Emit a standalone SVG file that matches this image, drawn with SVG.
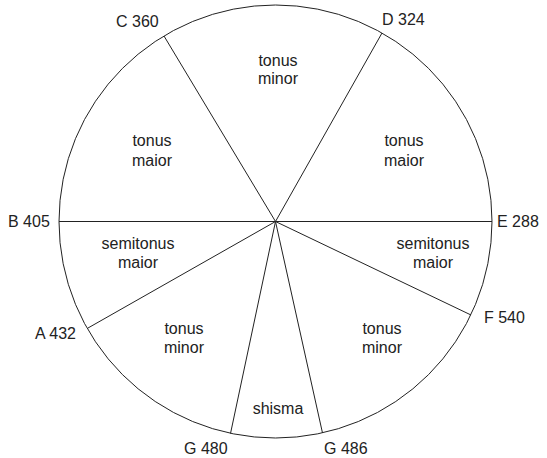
<svg xmlns="http://www.w3.org/2000/svg" width="547" height="458" viewBox="0 0 547 458">
<style>
text{font-family:"Liberation Sans",Arial,sans-serif;font-size:16px;fill:#222}
.c{text-anchor:middle}
.ln{stroke:#222;stroke-width:1;fill:none}
</style>
<rect width="547" height="458" fill="#fff"/>
<g id="circle"><circle class="ln" cx="275.5" cy="221.5" r="216.5"/></g>
<g id="connectors">
<line class="ln" x1="59" y1="221.5" x2="492" y2="221.5"/>
<line class="ln" x1="275.5" y1="221.5" x2="164" y2="36"/>
<line class="ln" x1="275.5" y1="221.5" x2="382" y2="33"/>
<line class="ln" x1="275.5" y1="221.5" x2="88" y2="328"/>
<line class="ln" x1="275.5" y1="221.5" x2="471" y2="315"/>
<line class="ln" x1="275.5" y1="221.5" x2="230.5" y2="433.5"/>
<line class="ln" x1="275.5" y1="221.5" x2="322.5" y2="433"/>
</g>
<g id="labels">
<text x="116" y="27">C 360</text>
<text x="382" y="25">D 324</text>
<text x="8" y="227">B 405</text>
<text x="497" y="227">E 288</text>
<text x="35" y="339">A 432</text>
<text x="484" y="323">F 540</text>
<text x="184" y="454">G 480</text>
<text x="324" y="454">G 486</text>
</g>
<g id="seg-cd"><text class="c" x="278" y="66">tonus</text><text class="c" x="278" y="84">minor</text></g>
<g id="seg-bc"><text class="c" x="152" y="146">tonus</text><text class="c" x="152" y="166">maior</text></g>
<g id="seg-de"><text class="c" x="404" y="146">tonus</text><text class="c" x="404" y="166">maior</text></g>
<g id="seg-ab"><text class="c" x="138" y="249">semitonus</text><text class="c" x="138" y="268">maior</text></g>
<g id="seg-ef"><text class="c" x="433" y="249">semitonus</text><text class="c" x="433" y="268">maior</text></g>
<g id="seg-ga"><text class="c" x="184" y="334">tonus</text><text class="c" x="184" y="353">minor</text></g>
<g id="seg-fg"><text class="c" x="382" y="334">tonus</text><text class="c" x="382" y="353">minor</text></g>
<g id="seg-gg"><text class="c" x="278" y="414">shisma</text></g>
</svg>
